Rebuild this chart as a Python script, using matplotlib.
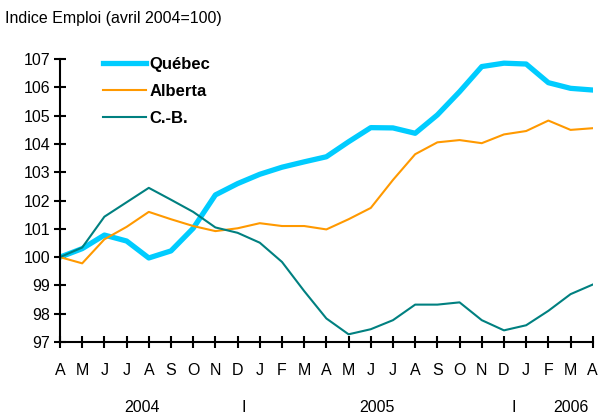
import matplotlib
matplotlib.use("Agg")
import matplotlib.pyplot as plt
import matplotlib.transforms as mtransforms

plt.rcParams['font.family'] = ['Liberation Sans', 'DejaVu Sans']

# avril 2004 .. avril 2006
months = ['A', 'M', 'J', 'J', 'A', 'S', 'O', 'N', 'D', 'J', 'F', 'M', 'A',
          'M', 'J', 'J', 'A', 'S', 'O', 'N', 'D', 'J', 'F', 'M', 'A']
quebec = [100.0, 100.3, 100.78, 100.57, 99.97, 100.22, 101.02, 102.2, 102.6,
          102.93, 103.18, 103.37, 103.55, 104.08, 104.58, 104.57, 104.38,
          105.03, 105.85, 106.74, 106.86, 106.83, 106.17, 105.97, 105.91]
alberta = [100.0, 99.78, 100.63, 101.07, 101.6, 101.34, 101.1, 100.92, 101.02,
           101.2, 101.1, 101.1, 100.98, 101.34, 101.74, 102.73, 103.64,
           104.06, 104.14, 104.03, 104.34, 104.46, 104.83, 104.5, 104.56]
cb = [100.0, 100.34, 101.43, 101.94, 102.45, 102.03, 101.6, 101.05, 100.86,
      100.51, 99.83, 98.8, 97.83, 97.27, 97.45, 97.77, 98.32, 98.32, 98.4,
      97.77, 97.41, 97.59, 98.1, 98.69, 99.03]
years = ['2004', '2005', '2006']
year_pos = [3.7, 14.3, 23.0]
sep_pos = [8.3, 20.45]

x = list(range(len(months)))

fig = plt.figure(figsize=(6.03, 4.17), dpi=100)
ax = fig.add_axes([0.0995, 0.18, 0.8835, 0.678])

ax.plot(x, quebec, color='#00CCFF', lw=3.8, label='Québec', solid_joinstyle='round')
ax.plot(x, alberta, color='#FF9900', lw=1.5, label='Alberta')
ax.plot(x, cb, color='#008080', lw=1.5, label='C.-B.')

ax.set_xlim(0, 24)
ax.set_ylim(97, 107)
ax.set_yticks(range(97, 108))
ax.set_xticks(x)
ax.set_xticklabels(months)
for s in ['top', 'right']:
    ax.spines[s].set_visible(False)
for s in ['left', 'bottom']:
    ax.spines[s].set_linewidth(1.5)
ax.tick_params(axis='both', direction='inout', length=8, width=1.5,
               labelsize=11.5)
ax.tick_params(axis='x', pad=11)
ax.tick_params(axis='y', pad=3)

trans = mtransforms.blended_transform_factory(ax.transData, ax.transAxes)
for yp, yl in zip(year_pos, years):
    ax.text(yp, -0.233, yl, transform=trans, ha='center', va='center', fontsize=11.5)
for sp in sep_pos:
    ax.text(sp, -0.233, 'I', transform=trans, ha='center', va='center', fontsize=11.5)

ax.legend(loc='upper left', bbox_to_anchor=(0.052, 1.06), frameon=False,
          prop={'weight': 'bold', 'size': 12}, handlelength=2.6,
          handletextpad=0.2, labelspacing=0.72)

fig.text(0.008, 0.955, 'Indice Emploi (avril 2004=100)', fontsize=11.5,
         ha='left', va='center')

fig.savefig('out.png', dpi=100)
